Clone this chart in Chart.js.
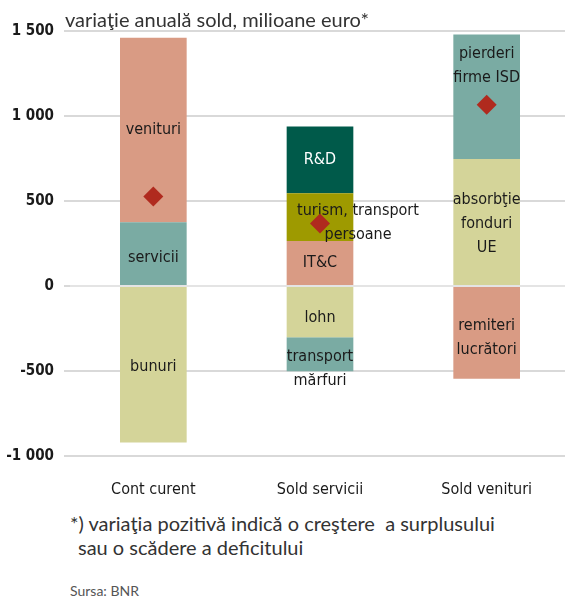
<!DOCTYPE html>
<html>
<head>
<meta charset="utf-8">
<script src="https://cdn.jsdelivr.net/npm/chart.js@4/dist/chart.umd.min.js"></script>
<style>
  body { margin: 0; background: #fff; overflow: hidden; }
  #wrap { position: relative; width: 565px; height: 600px; overflow: hidden; }
  #box { position: absolute; left: 0; top: 0; width: 580px; height: 500px; }
  .t { position: absolute; font-family: Lato, "Open Sans", sans-serif; color: #333; white-space: nowrap; }
</style>
</head>
<body>
<div id="wrap">
  <div id="box"><canvas id="c"></canvas></div>
  <div class="t" style="left:65px; top:7px; font-size:20px;">variaţie anuală sold, milioane euro*</div>
  <div class="t" style="left:70px; top:511px; font-size:20px;">*) variaţia pozitivă indică o creştere&nbsp; a surplusului</div>
  <div class="t" style="left:78px; top:535px; font-size:20px;">sau o scădere a deficitului</div>
  <div class="t" style="left:70px; top:582px; font-size:14px; color:#555;">Sursa: BNR</div>
</div>
<script>
// date (milioane euro)
const categories = ["Cont curent", "Sold servicii", "Sold venituri"];
const yTicks = [-1000, -500, 0, 500, 1000, 1500];

// Cont curent
const servicii = [375, null, null];
const venituri = [1085, null, null];
const bunuri = [-920, null, null];
// Sold servicii
const itc = [null, 265, null];
const turism = [null, 280, null];
const rd = [null, 393, null];
const lohn = [null, -301, null];
const transportMarfuri = [null, -200, null];
// Sold venituri
const absorbtie = [null, null, 747];
const pierderi = [null, null, 732];
const remiteri = [null, null, -546];
// sold net (romb)
const soldNet = [527, 368, 1066];

const salmon = "#d99b84", teal = "#7aaba3", khaki = "#d4d499";

// segmente: date, culoare, text, deplasare eticheta
const segments = [
  { data: servicii, color: teal, lines: ["servicii"], dx: 0, dy: 4 },
  { data: venituri, color: salmon, lines: ["venituri"], dx: 0, dy: 0 },
  { data: bunuri, color: khaki, lines: ["bunuri"], dx: 0, dy: 2 },
  { data: itc, color: salmon, lines: ["IT&C"], dx: 0, dy: 0 },
  { data: turism, color: "#9e9a00", lines: ["turism, transport", "persoane"], dx: 38, dy: 6 },
  { data: rd, color: "#005a4a", lines: ["R&D"], dx: 0, dy: 0, text: "#fff" },
  { data: lohn, color: khaki, lines: ["lohn"], dx: 0, dy: 6 },
  { data: transportMarfuri, color: teal, lines: ["transport", "mărfuri"], dx: 0, dy: 15 },
  { data: absorbtie, color: khaki, lines: ["absorbţie", "fonduri", "UE"], dx: 0, dy: 2 },
  { data: pierderi, color: teal, lines: ["pierderi", "firme ISD"], dx: 0, dy: -31 },
  { data: remiteri, color: salmon, lines: ["remiteri", "lucrători"], dx: 0, dy: 5 }
];

const narrow = '"Liberation Sans Narrow", "DejaVu Sans Condensed", sans-serif';
const labelFont = "16px " + narrow;

const segmentLabels = {
  id: "segmentLabels",
  afterDatasetsDraw(chart) {
    const ctx = chart.ctx;
    const area = chart.chartArea;
    ctx.save();
    // linia zero peste bare
    const y0line = chart.scales.y.getPixelForValue(0);
    ctx.strokeStyle = "#e4e4e4";
    ctx.lineWidth = 2;
    ctx.beginPath();
    ctx.moveTo(area.left, y0line);
    ctx.lineTo(area.right, y0line);
    ctx.stroke();

    ctx.font = labelFont;
    ctx.textAlign = "center";
    ctx.textBaseline = "middle";
    segments.forEach((s, i) => {
      const meta = chart.getDatasetMeta(i);
      meta.data.forEach((el, j) => {
        if (s.data[j] == null) return;
        const cx = el.x + s.dx;
        const cy = (el.y + el.base) / 2 + s.dy;
        const lh = 24;
        const y0 = cy - (s.lines.length - 1) * lh / 2;
        ctx.fillStyle = s.text || "#1a1a1a";
        s.lines.forEach((ln, k) => ctx.fillText(ln, cx, y0 + k * lh));
      });
    });
    // romb deasupra textului
    const pm = chart.getDatasetMeta(segments.length);
    pm.data.forEach(p => p.draw(ctx));
    ctx.restore();
  }
};

const datasets = segments.map(s => ({
  type: "bar",
  data: s.data,
  backgroundColor: s.color,
  stack: "a",
  barPercentage: 0.4,
  categoryPercentage: 1
}));
datasets.push({
  type: "line",
  data: soldNet,
  showLine: false,
  pointStyle: "rectRot",
  pointRadius: 10,
  pointBackgroundColor: "#b02a1e",
  pointBorderWidth: 0
});

new Chart(document.getElementById("c"), {
  data: { labels: categories, datasets: datasets },
  options: {
    responsive: true,
    maintainAspectRatio: false,
    animation: false,
    layout: { padding: { top: 31, right: 0, left: 0, bottom: 0 } },
    plugins: { legend: { display: false }, tooltip: { enabled: false } },
    scales: {
      x: {
        stacked: true,
        grid: { display: false },
        border: { display: false },
        ticks: {
          color: "#1a1a1a",
          padding: 16,
          font: { family: narrow, size: 16 }
        },
        afterFit: s => { s.height = 44; }
      },
      y: {
        stacked: true,
        min: -1000,
        max: 1500,
        afterBuildTicks: s => { s.ticks = yTicks.map(v => ({ value: v })); },
        grid: { color: "#d9d9d9", lineWidth: 2, tickLength: 6, tickColor: "#d9d9d9" },
        border: { display: false },
        ticks: {
          color: "#1a1a1a",
          padding: 10,
          font: { family: narrow, size: 15, weight: "bold" },
          callback: v => (v < 0 ? "-" : "") + String(Math.abs(v)).replace(/\B(?=(\d{3})+(?!\d))/g, " ")
        },
        afterFit: s => { s.width = 70; }
      }
    }
  },
  plugins: [segmentLabels]
});
</script>
</body>
</html>
